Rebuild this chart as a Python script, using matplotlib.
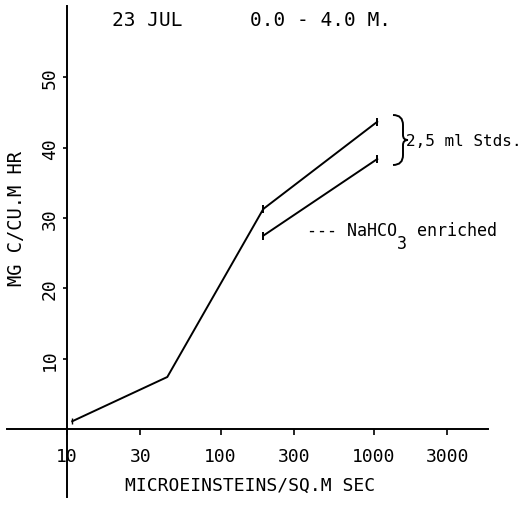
import matplotlib

matplotlib.use("Agg")
import matplotlib.pyplot as plt
from matplotlib.path import Path
from matplotlib.patches import PathPatch

# light response, 23 Jul, 0-4 m
light = [10.8, 45, 190]
uptake = [1.1, 7.4, 31.3]

# 2.5 ml standards
std_light = [190, 1050]
std_uptake = [31.3, 43.7]

# NaHCO3 enriched
enr_light = [190, 1050]
enr_uptake = [27.5, 38.4]

x_ticks = [10, 30, 100, 300, 1000, 3000]
x_ticklabels = ["10", "30", "100", "300", "1000", "3000"]
y_ticks = [10, 20, 30, 40, 50]

W, H = 530, 510
MONO = "DejaVu Sans Mono"
plt.rcParams["font.family"] = MONO

fig = plt.figure(figsize=(W / 100, H / 100), dpi=100)
ax = fig.add_axes([7 / W, 12 / H, 481 / W, 491 / H])
ax.set_xscale("log")
ax.set_xlim(4.06, 5535)
ax.set_ylim(-9.67, 60.17)

for side in ("top", "right"):
    ax.spines[side].set_visible(False)
ax.spines["left"].set_position(("data", 10))
ax.spines["bottom"].set_position(("data", 0))
for side in ("left", "bottom"):
    ax.spines[side].set_linewidth(1.4)

ax.set_xticks(x_ticks)
ax.set_xticklabels(x_ticklabels)
ax.xaxis.set_minor_locator(matplotlib.ticker.NullLocator())
ax.set_yticks(y_ticks)
ax.set_yticklabels([str(v) for v in y_ticks], rotation=90, va="center")
ax.tick_params(axis="x", direction="out", length=4, width=1.2, pad=9, labelsize=13)
ax.tick_params(axis="y", direction="out", length=3, width=1.2, pad=3, labelsize=13)

ax.plot(light, uptake, color="black", lw=1.4)
ax.plot(light[0], uptake[0], marker="|", color="black", ms=4)
ax.plot(std_light, std_uptake, color="black", lw=1.4, marker="|", ms=6, mew=1.4)
ax.plot(enr_light, enr_uptake, color="black", lw=1.4, marker="|", ms=6, mew=1.4)


def fx(px):
    return px / W


def fy(py):
    return 1 - py / H


fig.text(fx(112), fy(20), "23 JUL", fontsize=14, va="center", ha="left")
fig.text(fx(250), fy(20), "0.0 - 4.0 M.", fontsize=14, va="center", ha="left")
fig.text(fx(250), fy(486), "MICROEINSTEINS/SQ.M SEC", fontsize=13, va="center", ha="center")
fig.text(fx(17), fy(218), "MG C/CU.M HR", fontsize=13.5, va="center", ha="center", rotation=90)

fig.text(fx(406), fy(141), "2,5 ml Stds.", fontsize=11.5, va="center", ha="left")

# legend note with a full-size, dropped subscript (monospace: 10 px per char at 12 pt)
note_size = 12
char_px = 0.602 * note_size * 100 / 72
fig.text(fx(307), fy(231), "--- NaHCO", fontsize=note_size, va="center", ha="left")
fig.text(fx(307 + 9 * char_px), fy(244), "3", fontsize=note_size, va="center", ha="left")
fig.text(fx(307 + 10 * char_px), fy(231), " enriched", fontsize=note_size, va="center", ha="left")

# curly brace grouping the two standard lines
brace_px = [
    (393, 116), (403, 116), (403, 126),
    (403, 136), (403, 141), (408, 141),
    (403, 141), (403, 146), (403, 156),
    (403, 166), (393, 166),
]
codes = [Path.MOVETO, Path.CURVE3, Path.CURVE3, Path.LINETO, Path.CURVE3, Path.CURVE3,
         Path.CURVE3, Path.CURVE3, Path.LINETO, Path.CURVE3, Path.CURVE3]
brace = Path([(fx(x), fy(y)) for x, y in brace_px], codes)
fig.add_artist(PathPatch(brace, transform=fig.transFigure, fill=False, lw=1.4, color="black"))

fig.savefig("out.png", dpi=100)
